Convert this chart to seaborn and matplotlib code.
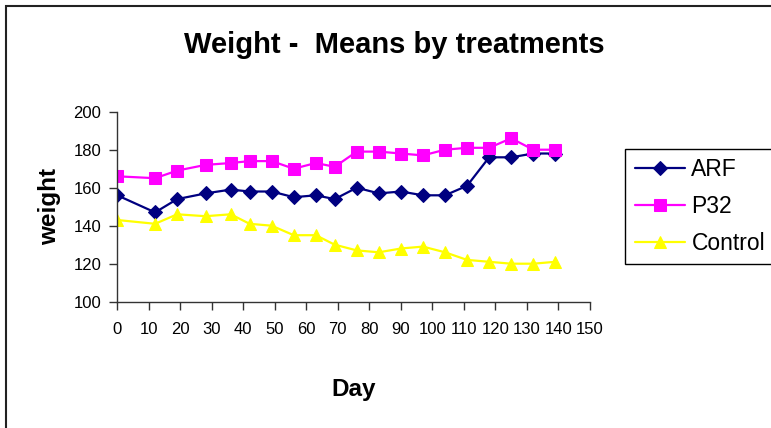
import matplotlib
matplotlib.use("Agg")
import matplotlib.pyplot as plt
import seaborn as sns
import pandas as pd
from matplotlib.patches import Rectangle

days = [0, 12, 19, 28, 36, 42, 49, 56, 63, 69, 76, 83, 90, 97, 104, 111, 118, 125, 132, 139]
arf = [156, 147, 154, 157, 159, 158, 158, 155, 156, 154, 160, 157, 158, 156, 156, 161, 176, 176, 178, 178]
p32 = [166, 165, 169, 172, 173, 174, 174, 170, 173, 171, 179, 179, 178, 177, 180, 181, 181, 186, 180, 180]
control = [143, 141, 146, 145, 146, 141, 140, 135, 135, 130, 127, 126, 128, 129, 126, 122, 121, 120, 120, 121]
treatments = ["ARF", "P32", "Control"]
colors = {"ARF": "#000080", "P32": "#FF00FF", "Control": "#FFFF00"}
markers = {"ARF": "D", "P32": "s", "Control": "^"}

df = pd.concat([
    pd.DataFrame({"Day": days, "weight": vals, "treatment": name})
    for name, vals in zip(treatments, [arf, p32, control])
], ignore_index=True)

sns.set_theme(style="white")
plt.rcParams["font.family"] = ["Liberation Sans", "DejaVu Sans"]
plt.rcParams["text.color"] = "black"
plt.rcParams["axes.labelcolor"] = "black"
plt.rcParams["xtick.color"] = "black"
plt.rcParams["ytick.color"] = "black"

fig = plt.figure(figsize=(7.71, 4.28), dpi=100)
ax = fig.add_axes([0.1521, 0.2951, 0.7652 - 0.1521, 0.739 - 0.2951])

sizes = {"ARF": 7.5, "P32": 8.5, "Control": 9}
for name in treatments:
    sns.lineplot(data=df[df.treatment == name], x="Day", y="weight", ax=ax,
                 color=colors[name], marker=markers[name], markersize=sizes[name],
                 markeredgecolor=colors[name], linewidth=1.6, label=name,
                 estimator=None, sort=True)

ax.set_xlim(0, 150)
ax.set_ylim(100, 200)
ax.set_xticks(range(0, 151, 10))
ax.set_yticks(range(100, 201, 20))
ax.tick_params(axis="both", direction="out", length=5.5, width=1, color="#333333",
               labelsize=12, bottom=True, left=True)
ax.tick_params(axis="x", pad=9)
ax.tick_params(axis="y", pad=6)
for side in ["top", "right"]:
    ax.spines[side].set_visible(False)
for side in ["left", "bottom"]:
    ax.spines[side].set_color("#333333")
    ax.spines[side].set_linewidth(1)

ax.set_xlabel("Day", fontsize=17.5, fontweight="bold", va="center")
ax.set_ylabel("weight", fontsize=17.5, fontweight="bold", va="center")
ax.xaxis.set_label_coords(0.5, -0.46)
ax.yaxis.set_label_coords(-0.143, 0.5)

fig.text(0.511, 0.895, "Weight -  Means by treatments", ha="center", va="center",
         fontsize=21, fontweight="bold")

leg = ax.legend(loc="upper left", bbox_to_anchor=(1.075, 0.803), fontsize=16.5,
                frameon=True, fancybox=False, edgecolor="black", framealpha=1,
                handlelength=2.2, labelspacing=0.6, borderpad=0.4,
                handletextpad=0.28, borderaxespad=0)
leg.get_frame().set_linewidth(1)

# outer chart border (top and left edges visible)
fig.patches.append(Rectangle((6 / 771, -0.1), 1.2, 1.1 - 6 / 428,
                             transform=fig.transFigure, fill=False,
                             edgecolor="#222222", linewidth=1.5))

fig.savefig("out.png", dpi=100)
